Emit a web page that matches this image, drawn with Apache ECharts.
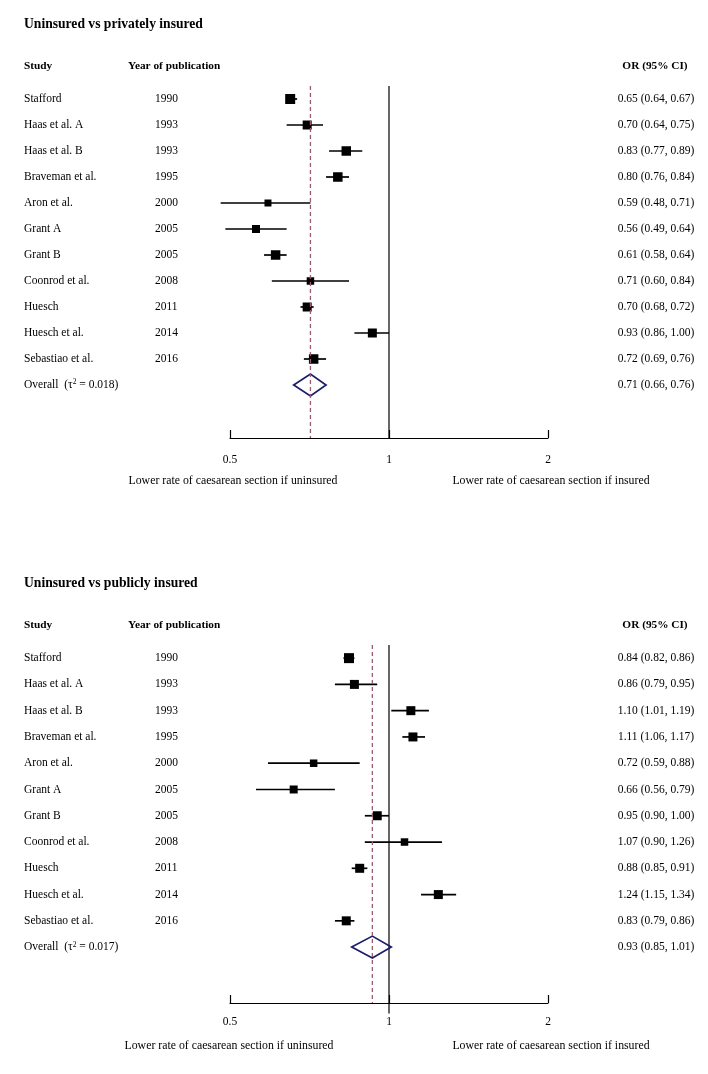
<!DOCTYPE html>
<html><head><meta charset="utf-8">
<script src="https://cdn.jsdelivr.net/npm/echarts@6/dist/echarts.min.js"></script>
<style>html,body{margin:0;padding:0;background:#fff}#c{width:708px;height:1074px}</style>
</head><body><div id="c"></div>
<script>
// ---------- data ----------
const studies = ["Stafford","Haas et al. A","Haas et al. B","Braveman et al.","Aron et al.","Grant A","Grant B","Coonrod et al.","Huesch","Huesch et al.","Sebastiao et al."];
const years = ["1990","1993","1993","1995","2000","2005","2005","2008","2011","2014","2016"];

const privTitle = "Uninsured vs privately insured";
const privOR = [0.65,0.70,0.83,0.80,0.59,0.56,0.61,0.71,0.70,0.93,0.72];
const privLo = [0.64,0.64,0.77,0.76,0.48,0.49,0.58,0.60,0.68,0.86,0.69];
const privHi = [0.67,0.75,0.89,0.84,0.71,0.64,0.64,0.84,0.72,1.00,0.76];
const privWeight = [10,9,9.5,9.5,7,8,9.5,7.5,9,9,9.5];
const privOverall = [0.71,0.66,0.76];
const privTau = "0.018";

const pubTitle = "Uninsured vs publicly insured";
const pubOR = [0.84,0.86,1.10,1.11,0.72,0.66,0.95,1.07,0.88,1.24,0.83];
const pubLo = [0.82,0.79,1.01,1.06,0.59,0.56,0.90,0.90,0.85,1.15,0.79];
const pubHi = [0.86,0.95,1.19,1.17,0.88,0.79,1.00,1.26,0.91,1.34,0.86];
const pubWeight = [10,9,9,9,7.5,8,9,7.5,9,9,9];
const pubOverall = [0.93,0.85,1.01];
const pubTau = "0.017";

const xTicks = [0.5,1,2];
const headers = ["Study","Year of publication","OR (95% CI)"];
const leftNote = "Lower rate of caesarean section if uninsured";
const rightNote = "Lower rate of caesarean section if insured";

// ---------- layout ----------
const FONT = "'Liberation Serif', 'Times New Roman', serif";
const FS = 11.5;
const panels = [
  {title: privTitle, or: privOR, lo: privLo, hi: privHi, w: privWeight, ov: privOverall, tau: privTau,
   top: 86, height: 352, rowH: 26, labelMargin: 16, leftNoteX: 233, extend: 0},
  {title: pubTitle, or: pubOR, lo: pubLo, hi: pubHi, w: pubWeight, ov: pubOverall, tau: pubTau,
   top: 645, height: 358, rowH: 26.27, labelMargin: 13, leftNoteX: 229, extend: 0.4}
];

const grids = [], xAxes = [], yAxes = [], series = [];
panels.forEach((p, g) => {
  p.yMax = p.height / p.rowH - 0.5;
  grids.push({left: 230, right: 160, top: p.top, height: p.height});
  xAxes.push({
    type: 'log', logBase: 2, min: 0.5, max: 2, gridIndex: g, position: 'bottom',
    axisLine: {show: true, onZero: false, lineStyle: {color: '#000', width: 1.2}},
    axisTick: {show: true, inside: true, length: 8, lineStyle: {color: '#000', width: 1.2},
      customValues: xTicks},
    axisLabel: {customValues: xTicks, margin: p.labelMargin, color: '#000', fontFamily: FONT, fontSize: FS,
      formatter: v => String(+v.toFixed(2))},
    splitLine: {show: false}
  });
  yAxes.push({type: 'value', inverse: true, min: -0.5, max: p.yMax, gridIndex: g, show: false});

  // reference line at OR = 1
  series.push({type: 'line', xAxisIndex: g, yAxisIndex: g, symbol: 'none', clip: false, silent: true,
    data: [[1, -0.5], [1, p.yMax + p.extend]], lineStyle: {color: '#000', width: 1.2}, z: 1});
  // pooled estimate dashed line
  series.push({type: 'line', xAxisIndex: g, yAxisIndex: g, symbol: 'none', silent: true,
    data: [[p.ov[0], -0.5], [p.ov[0], p.yMax]], lineStyle: {color: '#9c5a6e', width: 1.3, type: [4, 3]}, z: 5});
  // study estimates
  series.push({type: 'custom', xAxisIndex: g, yAxisIndex: g, z: 3,
    data: p.or.map((v, i) => [i, v, p.lo[i], p.hi[i], p.w[i]]),
    encode: {x: [1, 2, 3], y: 0},
    renderItem: (params, api) => {
      const r = api.value(0);
      const a = api.coord([api.value(2), r]), b = api.coord([api.value(3), r]), c = api.coord([api.value(1), r]);
      const s = api.value(4);
      return {type: 'group', children: [
        {type: 'line', shape: {x1: a[0], y1: a[1], x2: b[0], y2: b[1]}, style: {stroke: '#000', lineWidth: 1.7}},
        {type: 'rect', shape: {x: c[0] - s / 2, y: c[1] - s / 2, width: s, height: s}, style: {fill: '#000'}}
      ]};
    }
  });
  // overall diamond
  series.push({type: 'custom', xAxisIndex: g, yAxisIndex: g, z: 4,
    data: [[studies.length, p.ov[0], p.ov[1], p.ov[2]]],
    encode: {x: [1, 2, 3], y: 0},
    renderItem: (params, api) => {
      const r = api.value(0);
      const a = api.coord([api.value(2), r]), b = api.coord([api.value(3), r]), c = api.coord([api.value(1), r]);
      const h = 11;
      return {type: 'polygon', shape: {points: [[a[0], a[1]], [c[0], c[1] - h], [b[0], b[1]], [c[0], c[1] + h]]},
        style: {fill: 'rgba(0,0,0,0)', stroke: '#1c1c6b', lineWidth: 1.7}};
    }
  });
});

const chart = echarts.init(document.getElementById('c'), null, {renderer: 'canvas'});
chart.setOption({animation: false, backgroundColor: '#fff', grid: grids, xAxis: xAxes, yAxis: yAxes, series: series});

// ---------- text columns ----------
const gfx = [];
const txt = (x, y, s, opt) => gfx.push({type: 'text', x: x, y: y, silent: true,
  style: Object.assign({text: s, fontFamily: FONT, fontSize: FS, fill: '#000', textAlign: 'left', textVerticalAlign: 'middle'}, opt || {})});
const fmt = v => v.toFixed(2);
panels.forEach((p, g) => {
  const rowY = r => chart.convertToPixel({gridIndex: g}, [1, r])[1];
  const y0 = rowY(0);
  const axisY = p.top + p.height;
  txt(24, y0 - 75, p.title, {fontSize: 13.6, fontWeight: 'bold'});
  txt(24, y0 - 33, headers[0], {fontWeight: 'bold', fontSize: 11.3});
  txt(128, y0 - 33, headers[1], {fontWeight: 'bold', fontSize: 11.3});
  txt(655, y0 - 33, headers[2], {fontWeight: 'bold', fontSize: 11.3, textAlign: 'center'});
  studies.forEach((s, i) => {
    const y = rowY(i);
    txt(24, y, s);
    txt(155, y, years[i]);
    txt(656, y, fmt(p.or[i]) + ' (' + fmt(p.lo[i]) + ', ' + fmt(p.hi[i]) + ')', {textAlign: 'center'});
  });
  const yo = rowY(studies.length);
  gfx.push({type: 'text', x: 24, y: yo, silent: true, style: {
    rich: {n: {fontFamily: FONT, fontSize: FS, fill: '#000'}, s: {fontFamily: FONT, fontSize: 7.5, fill: '#000', verticalAlign: 'top', padding: [0, 0, 5, 0]}},
    text: '{n|Overall  (τ}{s|2}{n| = ' + p.tau + ')}', textVerticalAlign: 'middle', fontFamily: FONT, fontSize: FS, fill: '#000'}});
  txt(656, yo, fmt(p.ov[0]) + ' (' + fmt(p.ov[1]) + ', ' + fmt(p.ov[2]) + ')', {textAlign: 'center'});
  txt(p.leftNoteX, axisY + 43, leftNote, {textAlign: 'center', fontSize: 11.8});
  txt(551, axisY + 43, rightNote, {textAlign: 'center', fontSize: 11.8});
});
chart.setOption({graphic: gfx});
</script>
</body></html>
